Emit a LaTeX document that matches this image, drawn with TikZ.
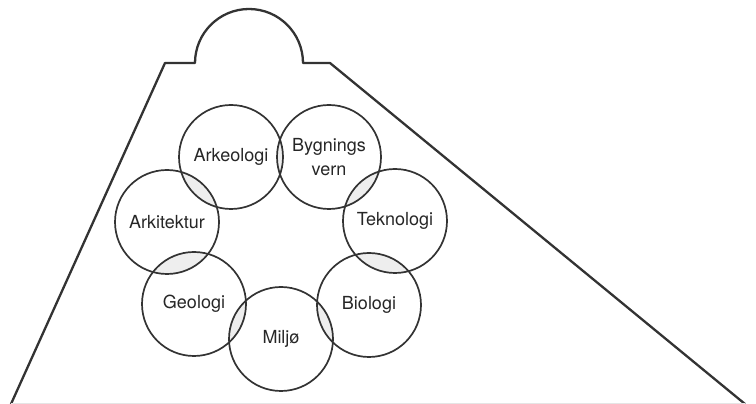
\documentclass[tikz,border=0pt]{standalone}
\usepackage{fontspec}
\setmainfont{TeX Gyre Heros}
\usepackage{tikz}
\usetikzlibrary{backgrounds}
\tikzset{
% Define standard discipline circle
field/.style={circle, draw=black!80, line width=1.7pt,
  minimum size=104pt, align=center,
  font=\fontsize{18}{24}\selectfont, text=black!85},
lens/.style={fill=gray!13}
}

\begin{document}
\begin{tikzpicture}[x=1pt, y=1pt, inner sep=0, outer sep=0]
  \useasboundingbox (0,0) rectangle (756,404);

  % building with dome
  \coordinate (base-l) at (11,0);
  \coordinate (base-r) at (745,0);
  \draw[draw=black!80, line width=2.3pt, line join=round]
    (base-l) -- (165,341) -- (195,341)
    arc[start angle=180, end angle=0, radius=54]
    -- (330,341) -- (base-r);
  \draw[draw=gray!20, line width=1pt] (base-l) -- (base-r);

  \node[field] (arkeologi) at (231,247) {Arkeologi};
  \node[field] (bygningsvern) at (329,247) {Bygnings\\vern};
  \node[field] (teknologi) at (395,183) {Teknologi};
  \node[field] (biologi) at (369,99) {Biologi};
  \node[field] (miljo) at (281,65) {Miljø};
  \node[field] (geologi) at (194,100) {Geologi};
  \node[field] (arkitektur) at (167,182) {Arkitektur};

  % overlaps
  \begin{scope}[on background layer]
    \begin{scope} \clip (arkeologi.center) circle[radius=52]; \fill[lens] (bygningsvern.center) circle[radius=52]; \end{scope}
    \begin{scope} \clip (bygningsvern.center) circle[radius=52]; \fill[lens] (teknologi.center) circle[radius=52]; \end{scope}
    \begin{scope} \clip (teknologi.center) circle[radius=52]; \fill[lens] (biologi.center) circle[radius=52]; \end{scope}
    \begin{scope} \clip (biologi.center) circle[radius=52]; \fill[lens] (miljo.center) circle[radius=52]; \end{scope}
    \begin{scope} \clip (miljo.center) circle[radius=52]; \fill[lens] (geologi.center) circle[radius=52]; \end{scope}
    \begin{scope} \clip (geologi.center) circle[radius=52]; \fill[lens] (arkitektur.center) circle[radius=52]; \end{scope}
    \begin{scope} \clip (arkitektur.center) circle[radius=52]; \fill[lens] (arkeologi.center) circle[radius=52]; \end{scope}
  \end{scope}
\end{tikzpicture}
\end{document}
